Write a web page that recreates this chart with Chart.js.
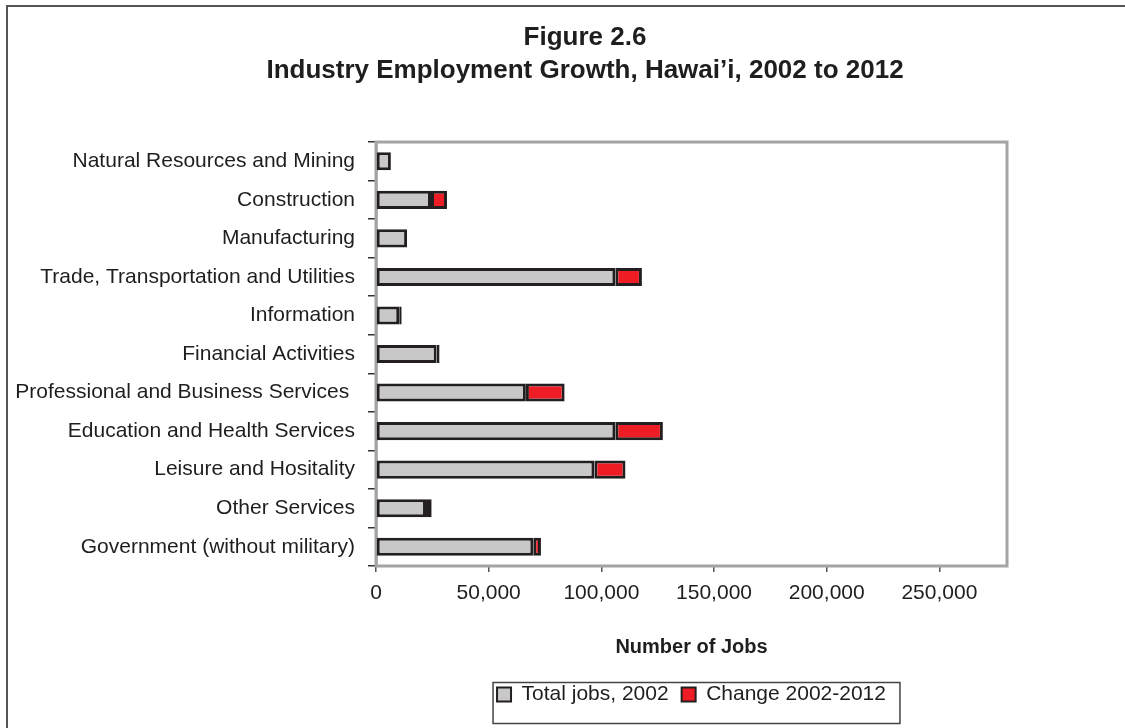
<!DOCTYPE html>
<html>
<head>
<meta charset="utf-8">
<title>Industry Employment Growth, Hawai’i, 2002 to 2012</title>
<script src="https://cdn.jsdelivr.net/npm/chart.js@4.4.1/dist/chart.umd.min.js"></script>
<style>
  html, body { margin: 0; padding: 0; background: #fff; overflow: hidden; }
  #wrap { position: relative; width: 1125px; height: 728px; }
  #frame {
    position: absolute; left: 6px; top: 5px; width: 1300px; height: 900px;
    border-left: 2px solid #555; border-top: 2px solid #555;
  }
  #chart { position: absolute; left: 0; top: 0; }
</style>
</head>
<body>
<div id="wrap">
  <div id="frame"></div>
  <canvas id="chart" width="1125" height="728"></canvas>
</div>
<script>
const industries = [
  "Natural Resources and Mining",
  "Construction",
  "Manufacturing",
  "Trade, Transportation and Utilities",
  "Information",
  "Financial Activities",
  "Professional and Business Services ",
  "Education and Health Services",
  "Leisure and Hositality",
  "Other Services",
  "Government (without military)"
];
const jobs2002 = [6600, 24400, 13800, 106200, 10300, 26900, 66500, 106200, 96900, 22200, 69800];
const change2002to2012 = [0, 7100, 0, 11800, 1100, 1300, 17200, 21100, 13800, 2500, 3400];
const xTicks = [0, 50000, 100000, 150000, 200000, 250000];
const xMax = 280000;

const FONT = "'Liberation Sans', Arial, Helvetica, sans-serif";
const INK = "#1e1e1e";

// gray box round the plot area
const plotFrame = {
  id: "plotFrame",
  beforeDatasetsDraw(chart) {
    const { ctx, chartArea: a } = chart;
    ctx.save();
    ctx.strokeStyle = "#a4a4a4";
    ctx.lineWidth = 3;
    ctx.strokeRect(a.left, a.top, a.right - a.left, a.bottom - a.top);
    ctx.restore();
  }
};

// outline round the legend entries
const legendBox = {
  id: "legendBox",
  afterDraw(chart) {
    const boxes = chart.legend.legendHitBoxes;
    if (!boxes || !boxes.length) return;
    const first = boxes[0], last = boxes[boxes.length - 1];
    const mid = first.top + first.height / 2;
    const ctx = chart.ctx;
    ctx.save();
    ctx.strokeStyle = "#444";
    ctx.lineWidth = 1.5;
    ctx.strokeRect(first.left - 4, mid - 12, last.left + last.width + 14 - (first.left - 4), 41);
    ctx.restore();
  }
};

new Chart(document.getElementById("chart"), {
  type: "bar",
  data: {
    labels: industries,
    datasets: [
      {
        label: "Total jobs, 2002",
        data: jobs2002,
        backgroundColor: "#c8c8c8",
        borderColor: "#231f20",
        borderWidth: 3,
        borderSkipped: false
      },
      {
        label: "Change 2002-2012",
        data: change2002to2012,
        backgroundColor: "#ee1c25",
        borderColor: "#231f20",
        borderWidth: 3,
        borderSkipped: false
      }
    ]
  },
  options: {
    indexAxis: "y",
    responsive: false,
    animation: false,
    devicePixelRatio: 1,
    barPercentage: 0.47,
    categoryPercentage: 1,
    // the title spans the padded width, so the right side is pushed out a bit
    // and an empty right-hand axis keeps the plot where it belongs
    layout: { padding: { left: 0, right: -45, top: 0, bottom: 13 } },
    plugins: {
      title: {
        display: true,
        text: ["Figure 2.6", "Industry Employment Growth, Hawai’i, 2002 to 2012"],
        color: INK,
        font: { family: FONT, size: 26, weight: "bold", lineHeight: 1.27 },
        padding: { top: 21, bottom: 55 }
      },
      legend: {
        position: "bottom",
        fullSize: false,
        labels: {
          color: INK,
          font: { family: FONT, size: 21 },
          boxWidth: 14,
          boxHeight: 14,
          padding: 13,
          generateLabels(chart) {
            const items = Chart.defaults.plugins.legend.labels.generateLabels(chart);
            items.forEach(it => { it.lineWidth = 2; });
            return items;
          }
        }
      },
      tooltip: { enabled: false }
    },
    scales: {
      x: {
        stacked: true,
        min: 0,
        max: xMax,
        afterFit(scale) { scale.height = 105; },
        afterBuildTicks(scale) {
          scale.ticks = xTicks.map(v => ({ value: v }));
        },
        ticks: {
          color: INK,
          font: { family: FONT, size: 21 },
          padding: 9,
          callback: v => v.toLocaleString("en-US")
        },
        grid: { drawOnChartArea: false, tickLength: 6, color: "#555", lineWidth: 1.5 },
        border: { display: true, color: "#222", width: 1.5 },
        title: {
          display: true,
          text: "Number of Jobs",
          color: INK,
          font: { family: FONT, size: 20, weight: "bold" },
          padding: { top: 0, bottom: 12 }
        }
      },
      y: {
        stacked: true,
        afterFit(scale) { scale.width = 376; },
        ticks: {
          color: INK,
          font: { family: FONT, size: 21 },
          padding: 13
        },
        grid: { drawOnChartArea: false, offset: true, tickLength: 8, color: "#333", lineWidth: 1.5 },
        border: { display: true, color: "#8a8a8a", width: 2.5 }
      },
      yRight: {
        type: "category",
        position: "right",
        afterFit(scale) { scale.width = 163; },
        ticks: { display: false },
        grid: { display: false },
        border: { display: false }
      }
    }
  },
  plugins: [plotFrame, legendBox]
});
</script>
</body>
</html>
